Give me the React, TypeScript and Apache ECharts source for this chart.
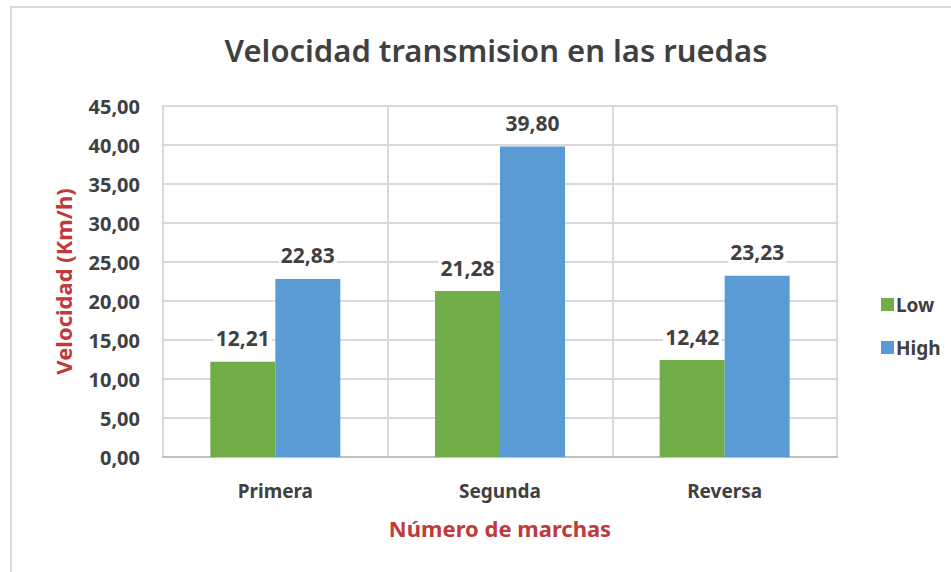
import React, { useEffect, useRef } from "react";
import * as echarts from "echarts";

const categories = ["Primera", "Segunda", "Reversa"];
const lowValues = [12.21, 21.28, 12.42];
const highValues = [22.83, 39.8, 23.23];
const seriesNames = ["Low", "High"];

const FONT = "'Noto Sans', 'Open Sans', sans-serif";
const fmt = (v: number) => v.toFixed(2).replace(".", ",");

export default function App() {
  const ref = useRef<HTMLDivElement>(null);
  useEffect(() => {
    if (!ref.current) return;
    const chart = echarts.init(ref.current, undefined, { renderer: "svg" });
    const labelStyle = {
      show: true,
      position: "top" as const,
      distance: 13,
      formatter: (p: any) => fmt(p.value),
      color: "#404040",
      fontSize: 21,
      fontWeight: "bold" as const,
      fontFamily: FONT,
      backgroundColor: "#ffffff",
      padding: [0, 2, 0, 2],
    };
    chart.setOption({
      animation: false,
      backgroundColor: "#ffffff",
      textStyle: { fontFamily: FONT },
      title: {
        text: "Velocidad transmision en las ruedas",
        left: 491,
        textAlign: "center",
        top: 29,
        textStyle: { color: "#404040", fontSize: 31, fontWeight: 600, fontFamily: FONT },
      },
      graphic: [
        {
          type: "rect",
          shape: { x: 11, y: 7, width: 960, height: 600 },
          style: { fill: "none", stroke: "#d9d9d9", lineWidth: 2 },
          silent: true,
        },
      ],
      legend: {
        orient: "vertical",
        left: 876,
        top: 290,
        itemWidth: 13,
        itemHeight: 13,
        itemGap: 24,
        icon: "rect",
        textStyle: { color: "#404040", fontSize: 19, fontWeight: "bold", fontFamily: FONT, padding: [0, 0, 0, -3] },
        data: seriesNames,
      },
      grid: { left: 163, right: 114, top: 106, bottom: 115, containLabel: false },
      xAxis: {
        type: "category",
        data: categories,
        name: "Número de marchas",
        nameLocation: "middle",
        nameGap: 60,
        nameTextStyle: { color: "#c0393b", fontSize: 22, fontWeight: "bold", fontFamily: FONT },
        axisLine: { show: true, lineStyle: { color: "#bfbfbf", width: 2 } },
        axisTick: { show: false },
        axisLabel: { color: "#404040", fontSize: 19, fontWeight: "bold", margin: 24, fontFamily: FONT },
        splitLine: { show: true, lineStyle: { color: "#d9d9d9", width: 2 } },
      },
      yAxis: {
        type: "value",
        min: 0,
        max: 45,
        interval: 5,
        name: "Velocidad (Km/h)",
        nameLocation: "middle",
        nameGap: 89,
        nameTextStyle: { color: "#c0393b", fontSize: 22, fontWeight: "bold", fontFamily: FONT },
        axisLine: { show: true, lineStyle: { color: "#d9d9d9", width: 2 } },
        axisTick: { show: false },
        axisLabel: {
          color: "#404040",
          fontSize: 20,
          fontWeight: "bold",
          margin: 23,
          fontFamily: FONT,
          formatter: (v: number) => fmt(v),
        },
        splitLine: { show: true, lineStyle: { color: "#d9d9d9", width: 2 } },
      },
      series: [
        {
          name: seriesNames[0],
          type: "bar",
          data: lowValues,
          barWidth: 65,
          barGap: "0%",
          itemStyle: { color: "#70ad47" },
          label: labelStyle,
        },
        {
          name: seriesNames[1],
          type: "bar",
          data: highValues,
          barWidth: 65,
          barGap: "0%",
          itemStyle: { color: "#5b9bd5" },
          label: labelStyle,
        },
      ],
    });
    return () => chart.dispose();
  }, []);
  return (
    <div
      ref={ref}
      style={{ position: "fixed", left: 0, top: 0, width: 951, height: 572 }}
    />
  );
}
